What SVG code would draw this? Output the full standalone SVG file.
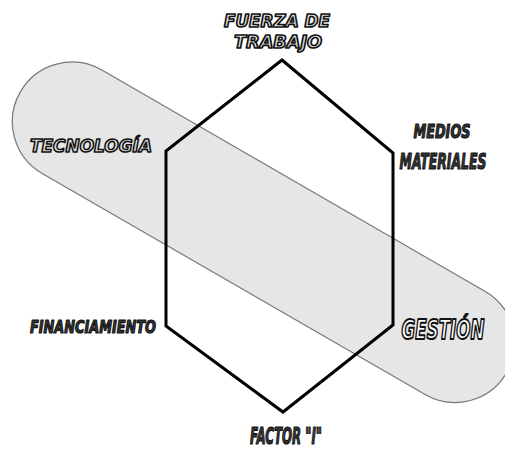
<svg xmlns="http://www.w3.org/2000/svg" width="505" height="450" viewBox="0 0 505 450">
<style>
.lbl{font-family:"DejaVu Sans","Liberation Sans",sans-serif;font-weight:bold;font-style:italic;stroke:#111;stroke-linejoin:round;text-anchor:middle}
.out{fill:#e0e0e0;stroke-width:1.6}
.dark{fill:#333;stroke-width:1.2}
</style>
<rect width="505" height="450" fill="#fff"/>
<g id="band">
<rect x="-280.8" y="-59.7" width="561.6" height="119.4" rx="59.7" transform="translate(263.5 232.3) rotate(30)" fill="#e6e6e6" stroke="#777" stroke-width="1.2"/>
</g>
<g id="connectors">
<polygon points="282,60 393,153 393,325 283,412 166,326 166,151" fill="none" stroke="#000" stroke-width="3" stroke-linejoin="miter"/>
</g>
<g id="n-fuerza"><text class="lbl out" x="277" y="27" font-size="17" textLength="106" lengthAdjust="spacingAndGlyphs">FUERZA DE</text><text class="lbl out" x="278" y="48" font-size="17" textLength="88" lengthAdjust="spacingAndGlyphs">TRABAJO</text></g>
<g id="n-tecnologia"><text class="lbl out" x="91" y="152" font-size="18" textLength="122" lengthAdjust="spacingAndGlyphs">TECNOLOGÍA</text></g>
<g id="n-medios"><text class="lbl dark" x="442" y="138" font-size="19" textLength="57" lengthAdjust="spacingAndGlyphs">MEDIOS</text><text class="lbl dark" x="443" y="169" font-size="21" textLength="87" lengthAdjust="spacingAndGlyphs">MATERIALES</text></g>
<g id="n-financiamiento"><text class="lbl dark" x="93" y="333" font-size="17" textLength="126" lengthAdjust="spacingAndGlyphs">FINANCIAMIENTO</text></g>
<g id="n-gestion"><text class="lbl out" x="443" y="339" font-size="26" textLength="83" lengthAdjust="spacingAndGlyphs" style="fill:#fff;stroke-width:2">GESTIÓN</text></g>
<g id="n-factor"><text class="lbl dark" x="286" y="444" font-size="23" textLength="72" lengthAdjust="spacingAndGlyphs">FACTOR "I"</text></g>
</svg>
